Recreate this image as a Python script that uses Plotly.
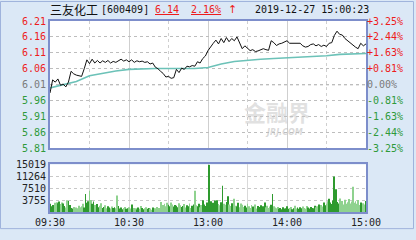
import plotly.graph_objects as go

# ---------------- data ----------------
stock_name = "三友化工"
stock_code = "[600409]"
last_price = "6.14"
last_pct = "2.16%"
timestamp = "2019-12-27 15:00:23"
prev_close = 6.01

# price every 2 minutes (minute index 0..240, 09:30-11:30 + 13:00-15:00)
price_minutes = list(range(0, 241, 2))
price_values = [
    5.984, 6.025, 6.018, 6.028, 6.008, 6.012, 6.003, 6.018, 6.052, 6.044,
    6.040, 6.038, 6.036, 6.060, 6.088, 6.076, 6.090, 6.078, 6.086, 6.078,
    6.085, 6.080, 6.086, 6.078, 6.083, 6.080, 6.085, 6.090, 6.084, 6.088,
    6.082, 6.088, 6.080, 6.085, 6.082, 6.084, 6.080, 6.082, 6.075, 6.078,
    6.065, 6.060, 6.052, 6.045, 6.034, 6.036, 6.030, 6.032, 6.058, 6.048,
    6.062, 6.058, 6.068, 6.066, 6.070, 6.068, 6.082, 6.078, 6.092, 6.100,
    6.117, 6.130, 6.140, 6.150, 6.138, 6.155, 6.142, 6.158, 6.145, 6.155,
    6.148, 6.160, 6.140, 6.123, 6.132, 6.125, 6.117, 6.120, 6.114, 6.116,
    6.120, 6.123, 6.120, 6.118, 6.148, 6.142, 6.133, 6.138, 6.140, 6.145,
    6.148, 6.140, 6.140, 6.138, 6.140, 6.140, 6.132, 6.128, 6.130, 6.136,
    6.138, 6.132, 6.136, 6.130, 6.134, 6.130, 6.140, 6.142, 6.165, 6.178,
    6.168, 6.166, 6.155, 6.148, 6.140, 6.135, 6.128, 6.123, 6.140, 6.132,
    6.138,
]

avg_minutes = list(range(0, 241, 10))
avg_values = [
    6.000, 6.010, 6.020, 6.038, 6.046, 6.053, 6.058, 6.060, 6.061, 6.061,
    6.061, 6.061, 6.064, 6.075, 6.083, 6.087, 6.090, 6.092, 6.094, 6.096,
    6.098, 6.101, 6.105, 6.107, 6.108,
]

volume_values = [
    2600, 1800, 2200, 1500, 2900, 3100, 2800, 3300, 2500, 3000,
    2700, 1900, 1400, 3700, 3500, 2200, 1300, 1100, 1600, 900,
    1400, 1200, 2000, 1500, 1800, 2600, 1400, 5700, 2900, 3400,
    6700, 3800, 2600, 3300, 2200, 1700, 2500, 1500, 2000, 2800,
    1300, 1600, 2100, 1200, 1800, 1400, 1100, 1700, 1300, 1500,
    1200, 5200, 1900, 1100, 1400, 900, 1300, 1600, 1000, 1200,
    1500, 1100, 2400, 1000, 1300, 1200, 800, 1400, 1000, 1900,
    1300, 900, 1200, 1500, 1000, 1300, 1100, 700, 1400, 1000,
    1200, 1600, 1000, 1300, 3200, 1500, 2200, 2600, 1800, 2900,
    2300, 1800, 3000, 2400, 1700, 2200, 2000, 1500, 2800, 2100,
    1600, 1900, 2500, 1400, 2100, 1800, 2700, 1300, 2000, 2400,
    6700, 2100, 1800, 2600, 1500, 2200, 3700, 2400, 1900, 3000,
    2800, 14900, 3400, 2200, 2900, 3600, 2000, 3700, 2500, 2100,
    3100, 8300, 2600, 2300, 3200, 5000, 2400, 1900, 2800, 2200,
    4200, 2000, 1700, 2900, 1500, 2700, 2300, 1600, 2000, 1400,
    2600, 1800, 1300, 2200, 1700, 1500, 2400, 1100, 1900, 1600,
    2100, 1400, 1800, 3000, 1500, 2000, 1300, 1700, 2300, 5700,
    1800, 1400, 1200, 1600, 1000, 1300, 900, 1500, 1100, 1200,
    1800, 1000, 1300, 1600, 900, 1200, 2000, 1100, 1400, 1000,
    1500, 1200, 1700, 1300, 1000, 1900, 1400, 1100, 1600, 1300,
    1200, 2000, 1500, 1800, 2400, 1400, 2200, 1700, 3000, 2100,
    2600, 3400, 4200, 3000, 2500, 3600, 11200, 7200, 3200, 2700,
    4300, 2900, 3500, 2400, 3900, 2600, 3100, 4100, 2700, 3300,
    8000, 2900, 3400, 2600, 3800, 2200, 3000, 1900, 2800, 2400,
    3500,
]
volume_minutes = list(range(len(volume_values)))

price_ticks = [6.21, 6.16, 6.11, 6.06, 6.01, 5.96, 5.91, 5.86, 5.81]
pct_labels = ["+3.25%", "+2.44%", "+1.63%", "+0.81%", "0.00%",
              "-0.81%", "-1.63%", "-2.44%", "-3.25%"]
vol_ticks = [3755, 7510, 11264, 15019]
vol_labels = ["3755", "7510", "11264", "15019"]
time_ticks = [0, 60, 120, 180, 240]
time_labels = ["09:30", "10:30", "13:00", "14:00", "15:00"]

# ---------------- style ----------------
RED = "#ee1c1c"
GREEN = "#2f9a3a"
GRAY = "#7a7a7a"
BG = "#dbe8f6"
FRAME = "#7d8ecb"
MONO = "DejaVu Sans Mono"


def col(v):
    if v > prev_close + 1e-9:
        return RED
    if v < prev_close - 1e-9:
        return GREEN
    return GRAY


left_text = [f'<span style="color:{col(v)}">{v:.2f}</span>' for v in price_ticks]
right_text = [f'<span style="color:{col(v)}">{t}</span>' for v, t in zip(price_ticks, pct_labels)]

# bar colours: lighter when price falling in that 2-minute slot
bar_colors = []
for m in volume_minutes:
    i = min(m // 2, len(price_values) - 1)
    falling = i > 0 and price_values[i] < price_values[i - 1]
    bar_colors.append("#8fd28f" if falling else "#2e9a2e")

fig = go.Figure()
fig.add_trace(go.Bar(x=volume_minutes, y=volume_values, marker_color=bar_colors,
                     marker_line_width=0, xaxis="x", yaxis="y", hoverinfo="skip"))
fig.add_trace(go.Scatter(x=avg_minutes, y=avg_values, mode="lines",
                         line=dict(color="#6cc2b8", width=1.6), xaxis="x2", yaxis="y2"))
fig.add_trace(go.Scatter(x=price_minutes, y=price_values, mode="lines",
                         line=dict(color="#111111", width=1), xaxis="x2", yaxis="y2"))
fig.add_trace(go.Scatter(x=avg_minutes, y=avg_values, mode="lines", opacity=0,
                         line=dict(width=0), xaxis="x2", yaxis="y3", hoverinfo="skip"))

W, H = 416, 240
L, R, T, B = 50, 50, 21, 18
PW, PH = W - L - R, H - T - B
main_dom = [(H - B - 155) / PH, 1.0]
vol_dom = [0.0, (H - B - 172) / PH]

axis_common = dict(showline=True, mirror=True, linecolor=FRAME, linewidth=2,
                   zeroline=False, ticks="")

fig.update_layout(
    width=W, height=H, margin=dict(l=L, r=R, t=T, b=B),
    paper_bgcolor=BG, plot_bgcolor="white", showlegend=False, bargap=0.35,
    xaxis=dict(domain=[0, 1], anchor="y", range=[0, 240], tickvals=time_ticks,
               ticktext=time_labels, tickfont=dict(family=MONO, size=10, color="#222"),
               showgrid=True, gridcolor="#d9d9d9", gridwidth=1,
               minor=dict(tickvals=[30, 90, 150, 210], showgrid=True,
                          gridcolor="#d9d9d9", gridwidth=1),
               **axis_common),
    yaxis=dict(domain=vol_dom, anchor="x", range=[0, 15019], tickvals=vol_ticks,
               ticktext=vol_labels,
               tickfont=dict(family=MONO, size=10, color="#222"),
               showgrid=True, gridcolor="#c8c8c8", griddash="dot", **axis_common),
    xaxis2=dict(domain=[0, 1], anchor="y2", matches="x", range=[0, 240],
                tickvals=[60, 120, 180], showticklabels=False,
                showgrid=True, gridcolor="#cfcfcf", gridwidth=1,
                minor=dict(tickvals=[30, 90, 150, 210], showgrid=True,
                           gridcolor="#cfcfcf", griddash="dot"),
                **axis_common),
    yaxis2=dict(domain=main_dom, anchor="x2", range=[5.81, 6.21],
                tickvals=price_ticks, ticktext=left_text,
                tickfont=dict(family=MONO, size=10),
                showgrid=True, gridcolor="#bdbdbd", griddash="dot", **axis_common),
    yaxis3=dict(overlaying="y2", anchor="x2", side="right", range=[5.81, 6.21],
                tickvals=price_ticks, ticktext=right_text,
                tickfont=dict(family=MONO, size=10), showgrid=False,
                showline=False, zeroline=False, ticks=""),
)

# darker dotted prev-close line
fig.add_shape(type="line", xref="x2", yref="y2", x0=0, x1=240,
              y0=prev_close, y1=prev_close, line=dict(color="#666", width=1, dash="dot"),
              layer="below")

# outer frame
fig.add_shape(type="rect", xref="paper", yref="paper",
              x0=-49.5 / PW, x1=(413.5 - L) / PW, y0=-(B - 0.5) / PH, y1=(H - B - 0.5) / PH,
              line=dict(color="#9fb3dc", width=1), layer="below")


def px_x(px):
    return (px - L) / PW


def px_y(py):
    return (H - B - py) / PH


ann = [
    dict(text=stock_name, x=px_x(48), y=px_y(9), xanchor="left",
         font=dict(family="Noto Sans CJK SC", size=12, color="#111")),
    dict(text=stock_code, x=px_x(99), y=px_y(9), xanchor="left",
         font=dict(family=MONO, size=10, color="#111")),
    dict(text=f'<span style="text-decoration:underline">{last_price}</span>',
         x=px_x(153), y=px_y(9), xanchor="left", font=dict(family=MONO, size=10, color=RED)),
    dict(text=f'<span style="text-decoration:underline">{last_pct}</span>',
         x=px_x(189), y=px_y(9), xanchor="left", font=dict(family=MONO, size=10, color=RED)),
    dict(text="↑", x=px_x(226), y=px_y(9), xanchor="left",
         font=dict(family="DejaVu Sans", size=11, color=RED)),
    dict(text=timestamp, x=px_x(253), y=px_y(9), xanchor="left",
         font=dict(family=MONO, size=10, color="#111")),
    dict(text="<b>金融界</b>", x=px_x(312), y=px_y(116),
         font=dict(family="Noto Sans CJK SC", size=22, color="rgba(200,200,200,0.55)")),
    dict(text="<i><b>JRJ.COM</b></i>", x=px_x(305), y=px_y(138),
         font=dict(family="DejaVu Sans", size=8, color="rgba(190,190,190,0.6)")),
]
for a in ann:
    a.update(xref="paper", yref="paper", showarrow=False, yanchor="middle")
fig.update_layout(annotations=ann)

fig.write_html("out.html")
